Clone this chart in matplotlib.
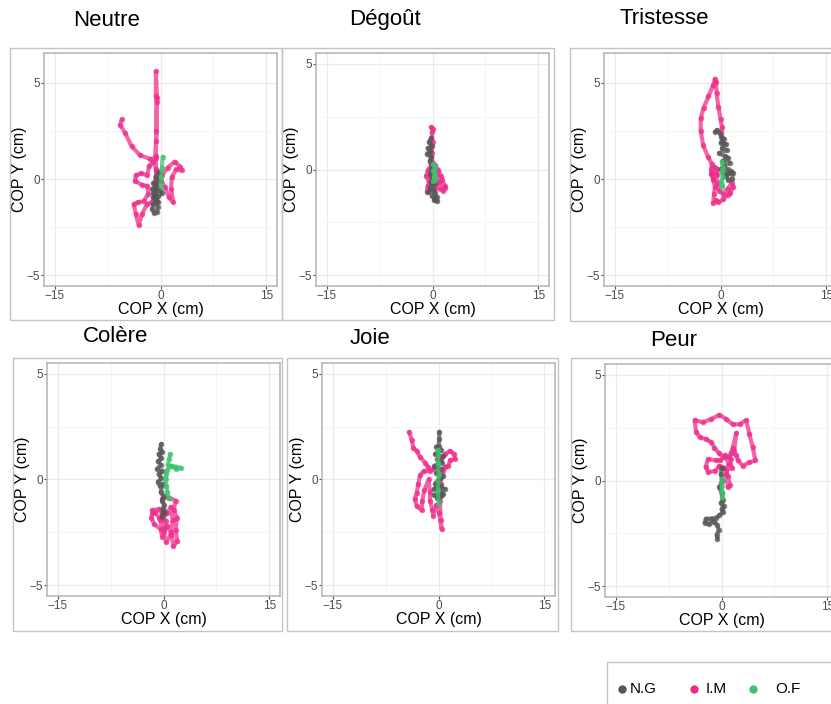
import matplotlib
matplotlib.use('Agg')
import matplotlib.pyplot as plt
from matplotlib.patches import Rectangle
from matplotlib.lines import Line2D
import numpy as np

plt.rcParams['font.family'] = ['Liberation Sans', 'DejaVu Sans']

# COP trajectories (cm) per emotion, one path per participant
neutre_ng_x = [-0.2, -0.7, -0.4, -1.0, -0.5, -1.2, -0.6, -0.1, -0.9, -0.4, -1.1, -0.6, 0.2, -0.5, -1.0, -0.7, -0.3, -1.0, -1.2, -0.9, -0.5, -0.4, -0.6]
neutre_ng_y = [0.35, 0.1, -0.1, -0.2, -0.35, -0.5, -0.6, -0.55, -0.8, -0.9, -0.95, -1.05, -0.7, -0.4, -0.7, -1.1, -1.2, -1.3, -1.55, -1.75, -1.7, -1.45, -1.2]
neutre_im_x = [0.2, 1.0, 2.0, 2.8, 3.0, 2.2, 1.6, 1.5, 1.8, 1.2, 0.6, 0.1, -0.6, -1.0, -1.6, -1.9, -2.8, -3.5, -3.6, -2.6, -1.9, -1.7, -2.4, -3.2, -3.8, -3.5, -3.1, -2.6, -1.9, -1.2, -0.8, -0.8, -0.6, -0.7, -0.6, -0.55, -0.65, -0.65, -0.5, -0.6, -0.7, -1.5, -2.9, -4.1, -5.0, -5.7, -5.5]
neutre_im_y = [0.2, 0.6, 0.9, 0.65, 0.45, 0.5, 0.1, -0.5, -1.2, -0.95, -0.4, -0.1, 0.5, 0.9, 0.7, 0.2, 0.3, 0.2, -0.1, -0.3, -0.35, -0.75, -1.15, -1.2, -1.3, -1.8, -2.4, -1.8, -1.3, -1.2, -0.9, -0.2, 0.4, 1.2, 2.5, 4.0, 4.3, 5.6, 4.2, 2.0, 1.1, 1.05, 1.25, 1.7, 2.4, 2.8, 3.1]
neutre_of_x = [0.3, 0.2, 0.1, 0.0]
neutre_of_y = [1.15, 0.6, 0.1, -0.4]

degout_ng_x = [-0.2, -0.5, -0.1, -0.7, -0.3, -0.8, -0.2, -0.4, -0.1, -0.3, 0.0, -0.2, 0.3, -0.4, 0.1, -0.6, 0.4, -0.1, 0.6, 0.2, 0.7, 0.3]
degout_ng_y = [1.5, 1.3, 1.1, 1.0, 0.85, 0.75, 0.6, 0.4, 0.1, -0.2, -0.45, -0.6, -0.7, -0.85, -0.95, -1.05, -1.1, -1.25, -1.3, -1.45, -1.5, -1.35]
degout_im_x = [-0.2, 0.1, -0.1, 0.0, -0.1, 0.0, -0.6, -0.9, -0.5, 0.3, 0.8, 1.2, 1.7, 1.5, 0.9, 0.4, -0.2, -0.7, -0.8, -0.3, 0.5, 1.1, 1.8, 1.3, 0.6, 0.2]
degout_im_y = [2.0, 1.9, 1.75, 1.3, 0.8, 0.3, 0.0, -0.3, -0.6, 0.2, 0.0, -0.3, -0.8, -1.0, -0.6, -0.9, -0.6, -0.8, -1.05, -0.4, -0.5, -0.9, -0.85, -0.5, -0.2, 0.1]
degout_of_x = [0.1, 0.3, 0.1, 0.4, 0.2, 0.3, 0.1]
degout_of_y = [0.25, 0.1, -0.05, -0.2, -0.35, -0.5, -0.55]

tristesse_ng_x = [-0.8, -0.5, -0.1, 0.1, 0.5, 0.0, 0.8, 0.2, 0.9, -0.2, 0.6, 1.1, 0.3, 1.3, 0.5, 0.1, 1.0, 0.4, 1.2, 0.7, 1.5, 1.8, 1.6, 1.1, 0.8]
tristesse_ng_y = [2.45, 2.55, 2.4, 2.2, 2.1, 1.9, 1.8, 1.6, 1.5, 1.35, 1.2, 1.1, 0.95, 0.85, 0.7, 0.55, 0.5, 0.35, 0.3, 0.15, 0.4, 0.3, 0.0, -0.05, 0.2]
tristesse_im_x = [0.3, 0.2, 0.0, -0.3, -0.55, -0.65, -0.8, -1.0, -1.7, -2.4, -2.8, -2.8, -2.45, -1.75, -1.25, -1.3, -1.35, -1.0, -0.5, -0.45, -0.9, -1.2, -1.0, -0.8, -0.9, -1.05, -0.7, -0.3, 0.4, 1.0, 1.4, 1.8, 1.6, 1.0, 0.4, -0.2, -0.5, -0.6]
tristesse_im_y = [1.9, 2.7, 3.1, 3.75, 4.45, 5.05, 5.2, 4.9, 4.3, 3.7, 3.15, 2.5, 1.75, 1.15, 0.8, 0.5, 0.25, 0.05, 0.2, 0.55, 0.65, 0.3, -0.05, -0.4, -0.75, -1.25, -1.1, -1.2, -1.05, -0.8, -0.7, -0.4, -0.2, -0.5, -0.75, -0.6, -0.2, 0.3]
tristesse_of_x = [0.2, 0.35, 0.15, 0.3, 0.1, 0.25, 0.15]
tristesse_of_y = [0.9, 0.6, 0.35, 0.1, -0.1, -0.3, -0.4]

colere_ng_x = [-0.3, -0.5, -0.2, -0.7, -0.3, -0.8, -0.4, -0.9, -0.2, -0.7, -0.3, -0.8, -0.5, -0.1, -0.4, 0.0, -0.2, 0.1, -0.1, 0.0, -0.2, 0.0]
colere_ng_y = [1.68, 1.45, 1.3, 1.2, 1.0, 0.85, 0.7, 0.5, 0.4, 0.25, 0.05, -0.1, -0.3, -0.2, -0.6, -0.8, -1.0, -1.2, -1.4, -1.6, -1.75, -1.5]
colere_im_x = [-0.2, 0.75, 1.7, 1.45, 1.9, 1.7, 1.95, 1.4, 1.1, 0.5, -0.2, -0.4, -1.35, -1.7, -1.6, -0.65, -0.2, 0.3, 0.0, -0.4, 0.5, 1.0, 1.3, 1.0, 0.4, 0.0, -0.6, -1.2, -1.5]
colere_im_y = [-0.9, -0.85, -1.0, -1.45, -1.8, -2.4, -2.9, -3.15, -2.5, -2.2, -2.7, -2.35, -2.1, -1.8, -1.45, -1.4, -1.6, -1.95, -2.3, -1.9, -1.6, -1.3, -1.9, -2.6, -2.95, -2.5, -1.8, -1.55, -1.6]
colere_of_x = [0.95, 0.8, 0.6, 1.2, 1.8, 2.5, 1.8, 1.0, 0.55, 0.4, 0.3, 0.4, 0.55, 0.75]
colere_of_y = [1.21, 0.95, 0.7, 0.62, 0.5, 0.55, 0.6, 0.62, 0.45, 0.25, 0.0, -0.3, -0.6, -0.85]

joie_ng_x = [0.1, 0.1, 0.0, -0.3, 0.4, -0.5, 0.6, -0.2, 0.5, -0.6, 0.3, -0.3, 0.7, 0.0, -0.5, 0.4, -0.7, 0.9, 0.2, -0.6, 0.7, -0.2, 0.4]
joie_ng_y = [2.25, 1.9, 1.6, 1.55, 1.4, 1.2, 1.1, 0.95, 0.8, 0.65, 0.5, 0.3, 0.15, 0.0, -0.2, -0.3, -0.45, -0.45, -0.6, -0.75, -0.7, -0.85, -0.8]
joie_im_x = [-4.15, -3.8, -3.55, -3.1, -2.6, -1.9, -1.45, -1.2, -2.1, -2.6, -2.85, -3.1, -3.35, -3.1, -2.4, -2.3, -2.0, -1.4, -1.2, -1.2, -0.85, -0.75, -0.3, 0.1, 0.45, 0.3, 0.2, 0.3, 0.6, 0.95, 1.4, 1.65, 2.35, 2.2, 1.65, 0.9, 0.4, -0.3, -0.8]
joie_im_y = [2.25, 1.85, 1.5, 1.35, 1.05, 0.8, 0.58, 0.4, 0.4, 0.2, -0.2, -0.65, -0.9, -1.25, -1.45, -1.0, -0.5, 0.0, -0.6, -1.0, -1.45, -1.7, -1.2, -1.6, -2.35, -1.9, -1.0, -0.2, 0.4, 0.6, 0.65, 0.9, 0.98, 1.2, 1.35, 1.2, 0.9, 0.6, 0.5]
joie_of_x = [-0.1, -0.05, 0.0, -0.05, 0.0]
joie_of_y = [1.4, 0.8, 0.2, -0.5, -1.15]

peur_ng_x = [0.0, -0.1, 0.1, -0.3, 0.0, 0.2, -0.1, 0.3, 0.0, 0.2, -0.3, -0.75, -1.5, -2.2, -2.4, -1.8, -1.0, -0.6, -0.4, -0.7, -0.6]
peur_ng_y = [0.6, 0.3, 0.0, -0.3, -0.6, -0.9, -1.05, -1.2, -1.35, -1.5, -1.65, -1.75, -1.8, -1.8, -2.0, -2.05, -1.95, -2.1, -2.35, -2.55, -2.75]
peur_im_x = [0.9, 0.6, 1.0, 0.5, 1.3, 0.7, 1.5, 1.1, 1.6, 2.1, 1.8, 1.4, 2.1, 2.3, 3.0, 3.95, 4.8, 4.4, 3.95, 3.5, 2.55, 1.6, 0.65, -0.3, -1.45, -2.65, -3.8, -3.6, -3.1, -2.2, -1.45, -1.0, -0.4, 0.3, -0.2, -0.75, -1.9, -2.25, -1.9, -0.9, -0.3, 0.4, 0.9, 1.2]
peur_im_y = [-0.3, 0.3, 0.8, 1.2, 1.0, 0.5, 0.6, 1.1, 1.55, 2.25, 1.4, 1.3, 1.2, 0.95, 0.7, 0.85, 0.95, 1.6, 2.2, 2.85, 2.65, 2.65, 2.9, 3.1, 2.9, 2.75, 2.85, 2.3, 2.05, 1.95, 1.8, 1.55, 1.3, 1.1, 0.95, 0.95, 1.0, 0.65, 0.4, 0.45, 0.7, 0.6, 0.2, -0.2]
peur_of_x = [0.0, 0.05, 0.1, 0.05]
peur_of_y = [0.05, -0.25, -0.55, -0.8]

groups = ['N.G', 'I.M', 'O.F']
colors = {'N.G': '#555555', 'I.M': '#EE2A88', 'O.F': '#3CC46C'}

W, H = 831, 704
fig = plt.figure(figsize=(W / 100, H / 100), dpi=100)


def px_rect(l, t, r, b):
    return [l / W, 1 - b / H, (r - l) / W, (b - t) / H]


def frame(l, t, r, b):
    fig.add_artist(Rectangle((l / W, 1 - b / H), (r - l) / W, (b - t) / H,
                             transform=fig.transFigure, fill=False,
                             ec='#c4c4c4', lw=1.0, clip_on=False))


def panel(box, ylim, data):
    ax = fig.add_axes(px_rect(*box))
    ax.set_xlim(-16.5, 16.5)
    ax.set_ylim(*ylim)
    ax.set_xticks([-15, 0, 15])
    ax.set_yticks([-5, 0, 5])
    ax.set_xticks([-7.5, 7.5], minor=True)
    ax.set_yticks([-2.5, 2.5], minor=True)
    ax.grid(which='major', color='#ebebeb', lw=0.9)
    ax.grid(which='minor', color='#f4f4f4', lw=0.6)
    ax.set_axisbelow(True)
    for s in ax.spines.values():
        s.set_color('#b3b3b3')
        s.set_linewidth(1.1)
    ax.tick_params(which='major', length=2, color='#4d4d4d', labelcolor='#4d4d4d',
                   labelsize=8.5, pad=1)
    ax.tick_params(which='minor', length=0)
    ax.set_xlabel('COP X (cm)', fontsize=11.5)
    ax.set_ylabel('COP Y (cm)', fontsize=11.5)
    h = box[3] - box[1]
    ax.xaxis.set_label_coords(0.5, -16 / h)
    ax.yaxis.set_label_coords(-17 / h, 0.5)
    # pink first, gray over it, green on top
    for g in ['I.M', 'N.G', 'O.F']:
        x, y = data[g]
        ax.plot(x, y, color=colors[g], lw=3.0, alpha=0.72, marker='o', ms=4,
                mew=0, solid_capstyle='round', solid_joinstyle='round')
    return ax


panels = [
    ('Neutre', (73, 20), (44, 53, 277, 286), (-5.55, 6.55),
     {'N.G': (neutre_ng_x, neutre_ng_y), 'I.M': (neutre_im_x, neutre_im_y), 'O.F': (neutre_of_x, neutre_of_y)}),
    ('Dégoût', (349, 20), (316, 53, 549, 286), (-5.5, 5.5),
     {'N.G': (degout_ng_x, degout_ng_y), 'I.M': (degout_im_x, degout_im_y), 'O.F': (degout_of_x, degout_of_y)}),
    ('Tristesse', (620, 19), (604, 53, 837, 286), (-5.55, 6.55),
     {'N.G': (tristesse_ng_x, tristesse_ng_y), 'I.M': (tristesse_im_x, tristesse_im_y), 'O.F': (tristesse_of_x, tristesse_of_y)}),
    ('Colère', (83, 336), (47, 363, 280, 596), (-5.5, 5.5),
     {'N.G': (colere_ng_x, colere_ng_y), 'I.M': (colere_im_x, colere_im_y), 'O.F': (colere_of_x, colere_of_y)}),
    ('Joie', (350, 338), (322, 363, 555, 596), (-5.5, 5.5),
     {'N.G': (joie_ng_x, joie_ng_y), 'I.M': (joie_im_x, joie_im_y), 'O.F': (joie_of_x, joie_of_y)}),
    ('Peur', (650, 341), (605, 364, 838, 597), (-5.5, 5.5),
     {'N.G': (peur_ng_x, peur_ng_y), 'I.M': (peur_im_x, peur_im_y), 'O.F': (peur_of_x, peur_of_y)}),
]

# thin frames around each sub-figure
frame(10, 48, 282, 320)
frame(282, 48, 554, 320)
frame(570, 48, 840, 321)
frame(13, 358, 282, 631)
frame(287, 358, 558, 631)
frame(571, 358, 840, 631)

for title, (tx, ty), box, ylim, data in panels:
    panel(box, ylim, data)
    fig.text(tx / W, 1 - ty / H, title, fontsize=16, va='center', ha='left')

# legend at the bottom right
frame(607, 662, 845, 715)
for g, dx, tx in zip(groups, [622, 694, 753], [630, 706, 775]):
    fig.add_artist(Line2D([dx / W], [1 - 689 / H], marker='o', ms=6, mew=0,
                          color=colors[g], transform=fig.transFigure))
    fig.text(tx / W, 1 - 689 / H, g, fontsize=11, va='center', ha='left')

fig.savefig('out.png', dpi=100)
